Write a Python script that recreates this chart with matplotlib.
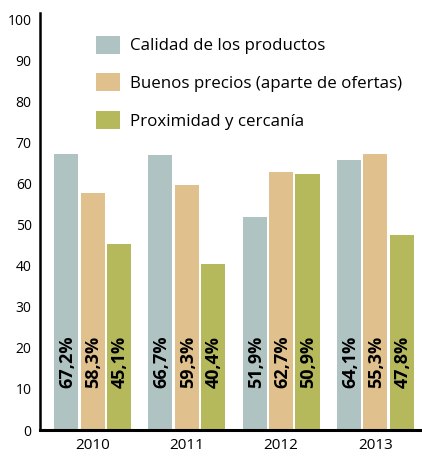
import matplotlib
matplotlib.use("Agg")
import matplotlib.pyplot as plt
import numpy as np

plt.rcParams['font.family'] = ['Open Sans', 'DejaVu Sans']

years = ["2010", "2011", "2012", "2013"]
series = ["Calidad de los productos", "Buenos precios (aparte de ofertas)", "Proximidad y cercanía"]
calidad = [67.3, 67.1, 52.0, 65.9]
precios = [57.9, 59.8, 62.9, 67.3]
proximidad = [45.4, 40.5, 62.4, 47.6]
calidad_lbl = ["67,2%", "66,7%", "51,9%", "64,1%"]
precios_lbl = ["58,3%", "59,3%", "62,7%", "55,3%"]
proximidad_lbl = ["45,1%", "40,4%", "50,9%", "47,8%"]
colors = ["#AFC3C2", "#E0C18E", "#B5B95C"]

fig = plt.figure(figsize=(4.22, 4.58), dpi=100)
ax = fig.add_axes([40/422, 1-430/458, 1-40/422, 417/458])

x = np.arange(len(years))
pitch = 0.28
width = 0.255
data = [calidad, precios, proximidad]
labels = [calidad_lbl, precios_lbl, proximidad_lbl]
for i, (vals, lbls, c, name) in enumerate(zip(data, labels, colors, series)):
    pos = x + (i - 1) * pitch
    ax.bar(pos, vals, width=width, color=c, label=name, zorder=2)
    for p, l in zip(pos, lbls):
        ax.text(p + 0.01, 10.2, l, rotation=90, ha='center', va='bottom',
                fontsize=13, fontweight='bold', color='black', zorder=3)

ax.set_xlim(-0.557, 3.494)
ax.set_ylim(0, 101.7)
ax.set_yticks(range(0, 101, 10))
ax.set_xticks(x)
ax.set_xticklabels(years)
ax.tick_params(axis='y', length=0, pad=6, labelsize=10)
ax.tick_params(axis='x', length=0, pad=6, labelsize=11)
for s in ['top', 'right']:
    ax.spines[s].set_visible(False)
ax.spines['left'].set_linewidth(1.8)
ax.spines['bottom'].set_linewidth(2.2)

leg = ax.legend(loc='upper left', bbox_to_anchor=(0.128, 0.962), frameon=False,
                fontsize=12.2, handlelength=1.42, handleheight=1.25,
                handletextpad=0.6, labelspacing=1.12, borderaxespad=0)

fig.savefig("out.png", dpi=100)
